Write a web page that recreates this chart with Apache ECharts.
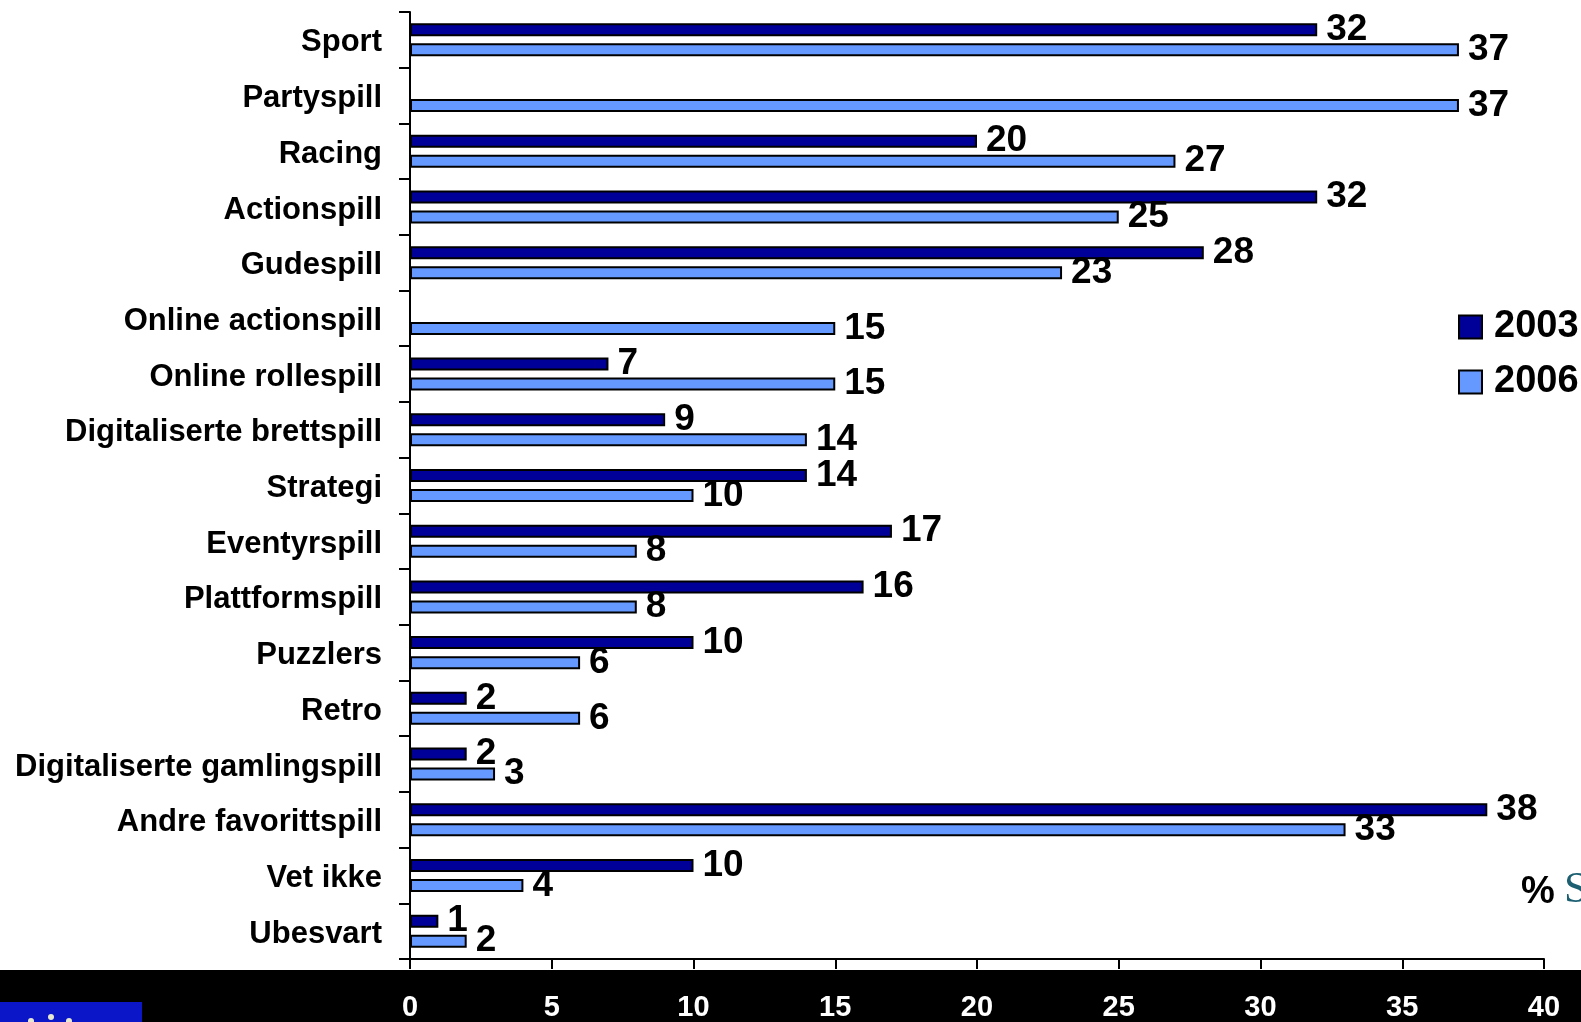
<!DOCTYPE html>
<html>
<head>
<meta charset="utf-8">
<script src="https://cdn.jsdelivr.net/npm/echarts@6/dist/echarts.min.js"></script>
<style>
html,body{margin:0;padding:0;background:#fff;}
#chart{width:1581px;height:1022px;}
</style>
</head>
<body>
<div id="chart"></div>
<script>
var categories = ['Sport','Partyspill','Racing','Actionspill','Gudespill','Online actionspill','Online rollespill','Digitaliserte brettspill','Strategi','Eventyrspill','Plattformspill','Puzzlers','Retro','Digitaliserte gamlingspill','Andre favorittspill','Vet ikke','Ubesvart'];
var values2003 = [32, null, 20, 32, 28, null, 7, 9, 14, 17, 16, 10, 2, 2, 38, 10, 1];
var values2006 = [37, 37, 27, 25, 23, 15, 15, 14, 10, 8, 8, 6, 6, 3, 33, 4, 2];
var seriesNames = ['2003', '2006'];
var xTicks = [0, 5, 10, 15, 20, 25, 30, 35, 40];

var FONT = '"Liberation Sans", Arial, Helvetica, sans-serif';
var chart = echarts.init(document.getElementById('chart'));

var labelStyle = {
  show: true, position: 'right', distance: 9,
  fontFamily: FONT, fontWeight: 'bold', fontSize: 37, color: '#000'
};

chart.setOption({
  animation: false,
  grid: {left: 410, right: 37, top: 12, bottom: 62, containLabel: false},
  legend: {
    orient: 'vertical', left: 1453, top: 303,
    itemWidth: 23, itemHeight: 23, itemGap: 17,
    icon: 'rect',
    textStyle: {fontFamily: FONT, fontWeight: 'bold', fontSize: 38, color: '#000', padding: [0,0,0,7]},
    data: seriesNames
  },
  xAxis: {
    type: 'value', min: xTicks[0], max: xTicks[xTicks.length-1], interval: 5,
    axisLine: {show: true, lineStyle: {color: '#000', width: 2}},
    axisTick: {show: true, length: 10, lineStyle: {color: '#000', width: 2}},
    splitLine: {show: false},
    axisLabel: {margin: 34, fontFamily: FONT, fontWeight: 'bold', fontSize: 29, color: '#fff'}
  },
  yAxis: {
    type: 'category', inverse: true, data: categories,
    axisLine: {show: true, lineStyle: {color: '#000', width: 2}},
    axisTick: {show: true, length: 11, alignWithLabel: false, interval: 0, lineStyle: {color: '#000', width: 2}},
    axisLabel: {
      margin: 28, interval: 0, fontFamily: FONT, fontWeight: 'bold', fontSize: 31, color: '#000',
      formatter: function (v) { return '{a|' + v + '}'; },
      rich: {a: {fontFamily: FONT, fontWeight: 'bold', fontSize: 31, color: '#000', padding: [6, 0, 0, 0]}}
    }
  },
  series: [
    {
      name: seriesNames[0], type: 'bar', data: values2003,
      barWidth: 13, barGap: '54%',
      itemStyle: {color: '#000099', borderColor: '#000', borderWidth: 2},
      label: labelStyle
    },
    {
      name: seriesNames[1], type: 'bar', data: values2006,
      barWidth: 13, barGap: '54%',
      itemStyle: {color: '#6699ff', borderColor: '#000', borderWidth: 2},
      label: labelStyle
    }
  ],
  graphic: [
    {type: 'rect', z: -10, shape: {x: 0, y: 970, width: 1581, height: 52}, style: {fill: '#000'}},
    {type: 'rect', z: -9, shape: {x: 0, y: 1002, width: 142, height: 20}, style: {fill: '#0a16c8'}},
    {type: 'circle', z: -8, shape: {cx: 31, cy: 1021, r: 3}, style: {fill: '#e8e8d0'}},
    {type: 'circle', z: -8, shape: {cx: 51, cy: 1017, r: 3}, style: {fill: '#e8e8d0'}},
    {type: 'circle', z: -8, shape: {cx: 69, cy: 1021, r: 3}, style: {fill: '#e8e8d0'}},
    {type: 'text', x: 1521, y: 874, style: {text: '%', font: 'bold 38px ' + FONT, fill: '#000'}},
    {type: 'text', x: 1564, y: 868, style: {text: 'S', font: '44px "Liberation Serif", "DejaVu Serif", serif', fill: '#1b5f70'}}
  ]
});
</script>
</body>
</html>
